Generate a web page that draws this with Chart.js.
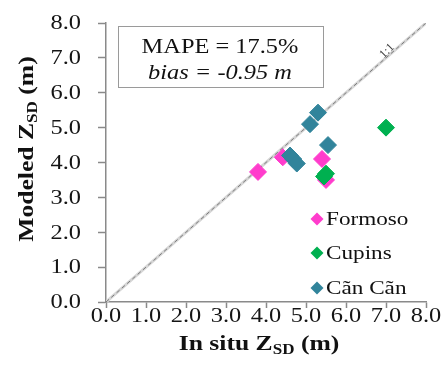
<!DOCTYPE html>
<html>
<head>
<meta charset="utf-8">
<script src="https://cdn.jsdelivr.net/npm/chart.js@4"></script>
<style>
  html, body { margin: 0; padding: 0; background: #fff; }
  #wrap { width: 441px; height: 381px; }
</style>
</head>
<body>
<div id="wrap"><canvas id="grafica" width="441" height="381"></canvas></div>
<script>
// valores
const formosoX = [3.8, 4.42, 5.4, 5.5];
const formosoY = [3.73, 4.15, 4.1, 3.5];
const cupinsX = [7.0, 5.5, 5.45];
const cupinsY = [5.0, 3.68, 3.6];
const cancanX = [5.3, 5.1, 5.55, 4.6, 4.68, 4.77];
const cancanY = [5.43, 5.1, 4.5, 4.2, 4.1, 3.97];
const lineaX = [0, 8];
const lineaY = [0, 8];
const ticks = [0, 1, 2, 3, 4, 5, 6, 7, 8];

const series = ['Formoso', 'Cupins', 'Cãn Cãn'];
const colores = ['#ff3ccc', '#00b050', '#31849b'];

const puntos = (xs, ys) => xs.map((x, i) => ({ x: x, y: ys[i] }));
const serif = '"Liberation Serif", "Times New Roman", serif';
const ancho = 1.22; // la figura original tiene el texto estirado en horizontal

// texto estirado en horizontal
function texto(ctx, str, x, y, align) {
    ctx.save();
    ctx.translate(x, y);
    ctx.scale(ancho, 1);
    ctx.textAlign = align || 'center';
    ctx.fillText(str, 0, 0);
    ctx.restore();
}

// textos, leyenda, etiquetas de ticks y titulos de ejes
const extras = {
    id: 'extras',
    afterDraw(chart) {
        const ctx = chart.ctx;
        ctx.save();

        // etiquetas de los ticks
        ctx.fillStyle = '#151515';
        ctx.font = '20px ' + serif;
        ctx.textBaseline = 'middle';
        const sx = chart.scales.x;
        const sy = chart.scales.y;
        sx.ticks.forEach(t => texto(ctx, t.value.toFixed(1), sx.getPixelForValue(t.value), 317, 'center'));
        sy.ticks.forEach(t => texto(ctx, t.value.toFixed(1), 81, sy.getPixelForValue(t.value) + 1, 'right'));

        // caja MAPE
        ctx.strokeStyle = '#9a9a9a';
        ctx.lineWidth = 1;
        ctx.fillStyle = '#fff';
        ctx.fillRect(118.5, 26.5, 205, 61);
        ctx.strokeRect(118.5, 26.5, 205, 61);
        ctx.fillStyle = '#111';
        ctx.font = '20px ' + serif;
        texto(ctx, 'MAPE = 17.5%', 220, 48);
        ctx.font = 'italic 20px ' + serif;
        texto(ctx, 'bias = -0.95 m', 220, 74);

        // etiqueta 1:1
        ctx.save();
        ctx.translate(387, 51);
        ctx.rotate(-Math.PI / 4);
        ctx.font = '12px ' + serif;
        ctx.fillStyle = '#444';
        ctx.textAlign = 'center';
        ctx.fillText('1:1', 0, 0);
        ctx.restore();

        // leyenda
        const filas = [219, 253, 288];
        ctx.font = '19px ' + serif;
        series.forEach((nombre, i) => {
            const y = filas[i];
            ctx.fillStyle = colores[i];
            ctx.beginPath();
            ctx.moveTo(317, y - 6.5);
            ctx.lineTo(323.5, y);
            ctx.lineTo(317, y + 6.5);
            ctx.lineTo(310.5, y);
            ctx.closePath();
            ctx.fill();
            ctx.fillStyle = '#111';
            texto(ctx, nombre, 326, y + 1, 'left');
        });

        // titulos con subindice
        const titulo = (partes) => {
            let total = 0;
            partes.forEach(p => { ctx.font = p[1]; total += ctx.measureText(p[0]).width; });
            let x = -total / 2;
            ctx.textAlign = 'left';
            partes.forEach(p => {
                ctx.font = p[1];
                ctx.fillText(p[0], x, p[2]);
                x += ctx.measureText(p[0]).width;
            });
        };
        const grande = 'bold 21px ' + serif;
        const chico = 'bold 14px ' + serif;
        ctx.fillStyle = '#111';
        ctx.textBaseline = 'alphabetic';

        ctx.save();
        ctx.translate(259, 350);
        ctx.scale(ancho, 1);
        titulo([['In situ Z', grande, 0], ['SD', chico, 4], [' (m)', grande, 0]]);
        ctx.restore();

        ctx.save();
        ctx.translate(33, 149);
        ctx.rotate(-Math.PI / 2);
        ctx.scale(ancho, 1);
        titulo([['Modeled Z', grande, 0], ['SD', chico, 4], [' (m)', grande, 0]]);
        ctx.restore();

        ctx.restore();
    }
};

const ctx = document.getElementById('grafica').getContext('2d');
const myChart = new Chart(ctx, {
    type: 'scatter',
    data: {
        datasets: [
            {
                type: 'line',
                label: 'sombra',
                data: puntos(lineaX, lineaY),
                borderColor: '#d6d6d6',
                borderWidth: 3,
                pointRadius: 0,
                order: 6
            },
            {
                type: 'line',
                label: '1:1',
                data: puntos(lineaX, lineaY),
                borderColor: '#7a7a7a',
                borderWidth: 1,
                borderDash: [4, 3],
                pointRadius: 0,
                order: 5
            },
            {
                label: series[0],
                data: puntos(formosoX, formosoY),
                backgroundColor: colores[0],
                borderColor: colores[0],
                pointStyle: 'rectRot',
                pointRadius: 8.5,
                order: 3
            },
            {
                label: series[1],
                data: puntos(cupinsX, cupinsY),
                backgroundColor: colores[1],
                borderColor: colores[1],
                pointStyle: 'rectRot',
                pointRadius: 8.5,
                order: 2
            },
            {
                label: series[2],
                data: puntos(cancanX, cancanY),
                backgroundColor: colores[2],
                borderColor: colores[2],
                pointStyle: 'rectRot',
                pointRadius: 8.5,
                order: 1
            }
        ]
    },
    options: {
        responsive: false,
        animation: false,
        layout: { padding: { top: 23, right: 15, left: 0, bottom: 0 } },
        scales: {
            x: {
                type: 'linear',
                min: 0,
                max: 8,
                afterBuildTicks: (s) => { s.ticks = ticks.map(v => ({ value: v })); },
                afterFit: (s) => { s.height = 79; },
                border: { color: '#8a8a8a', width: 1.5 },
                grid: { drawOnChartArea: false, tickLength: 6, tickColor: '#8a8a8a', tickWidth: 1.5 },
                ticks: { display: false }
            },
            y: {
                type: 'linear',
                min: 0,
                max: 8,
                afterBuildTicks: (s) => { s.ticks = ticks.map(v => ({ value: v })); },
                afterFit: (s) => { s.width = 106; },
                border: { color: '#8a8a8a', width: 1.5 },
                grid: { drawOnChartArea: false, tickLength: 8, tickColor: '#8a8a8a', tickWidth: 1.5 },
                ticks: { display: false }
            }
        },
        plugins: {
            legend: { display: false },
            tooltip: { enabled: false }
        }
    },
    plugins: [extras]
});
</script>
</body>
</html>
